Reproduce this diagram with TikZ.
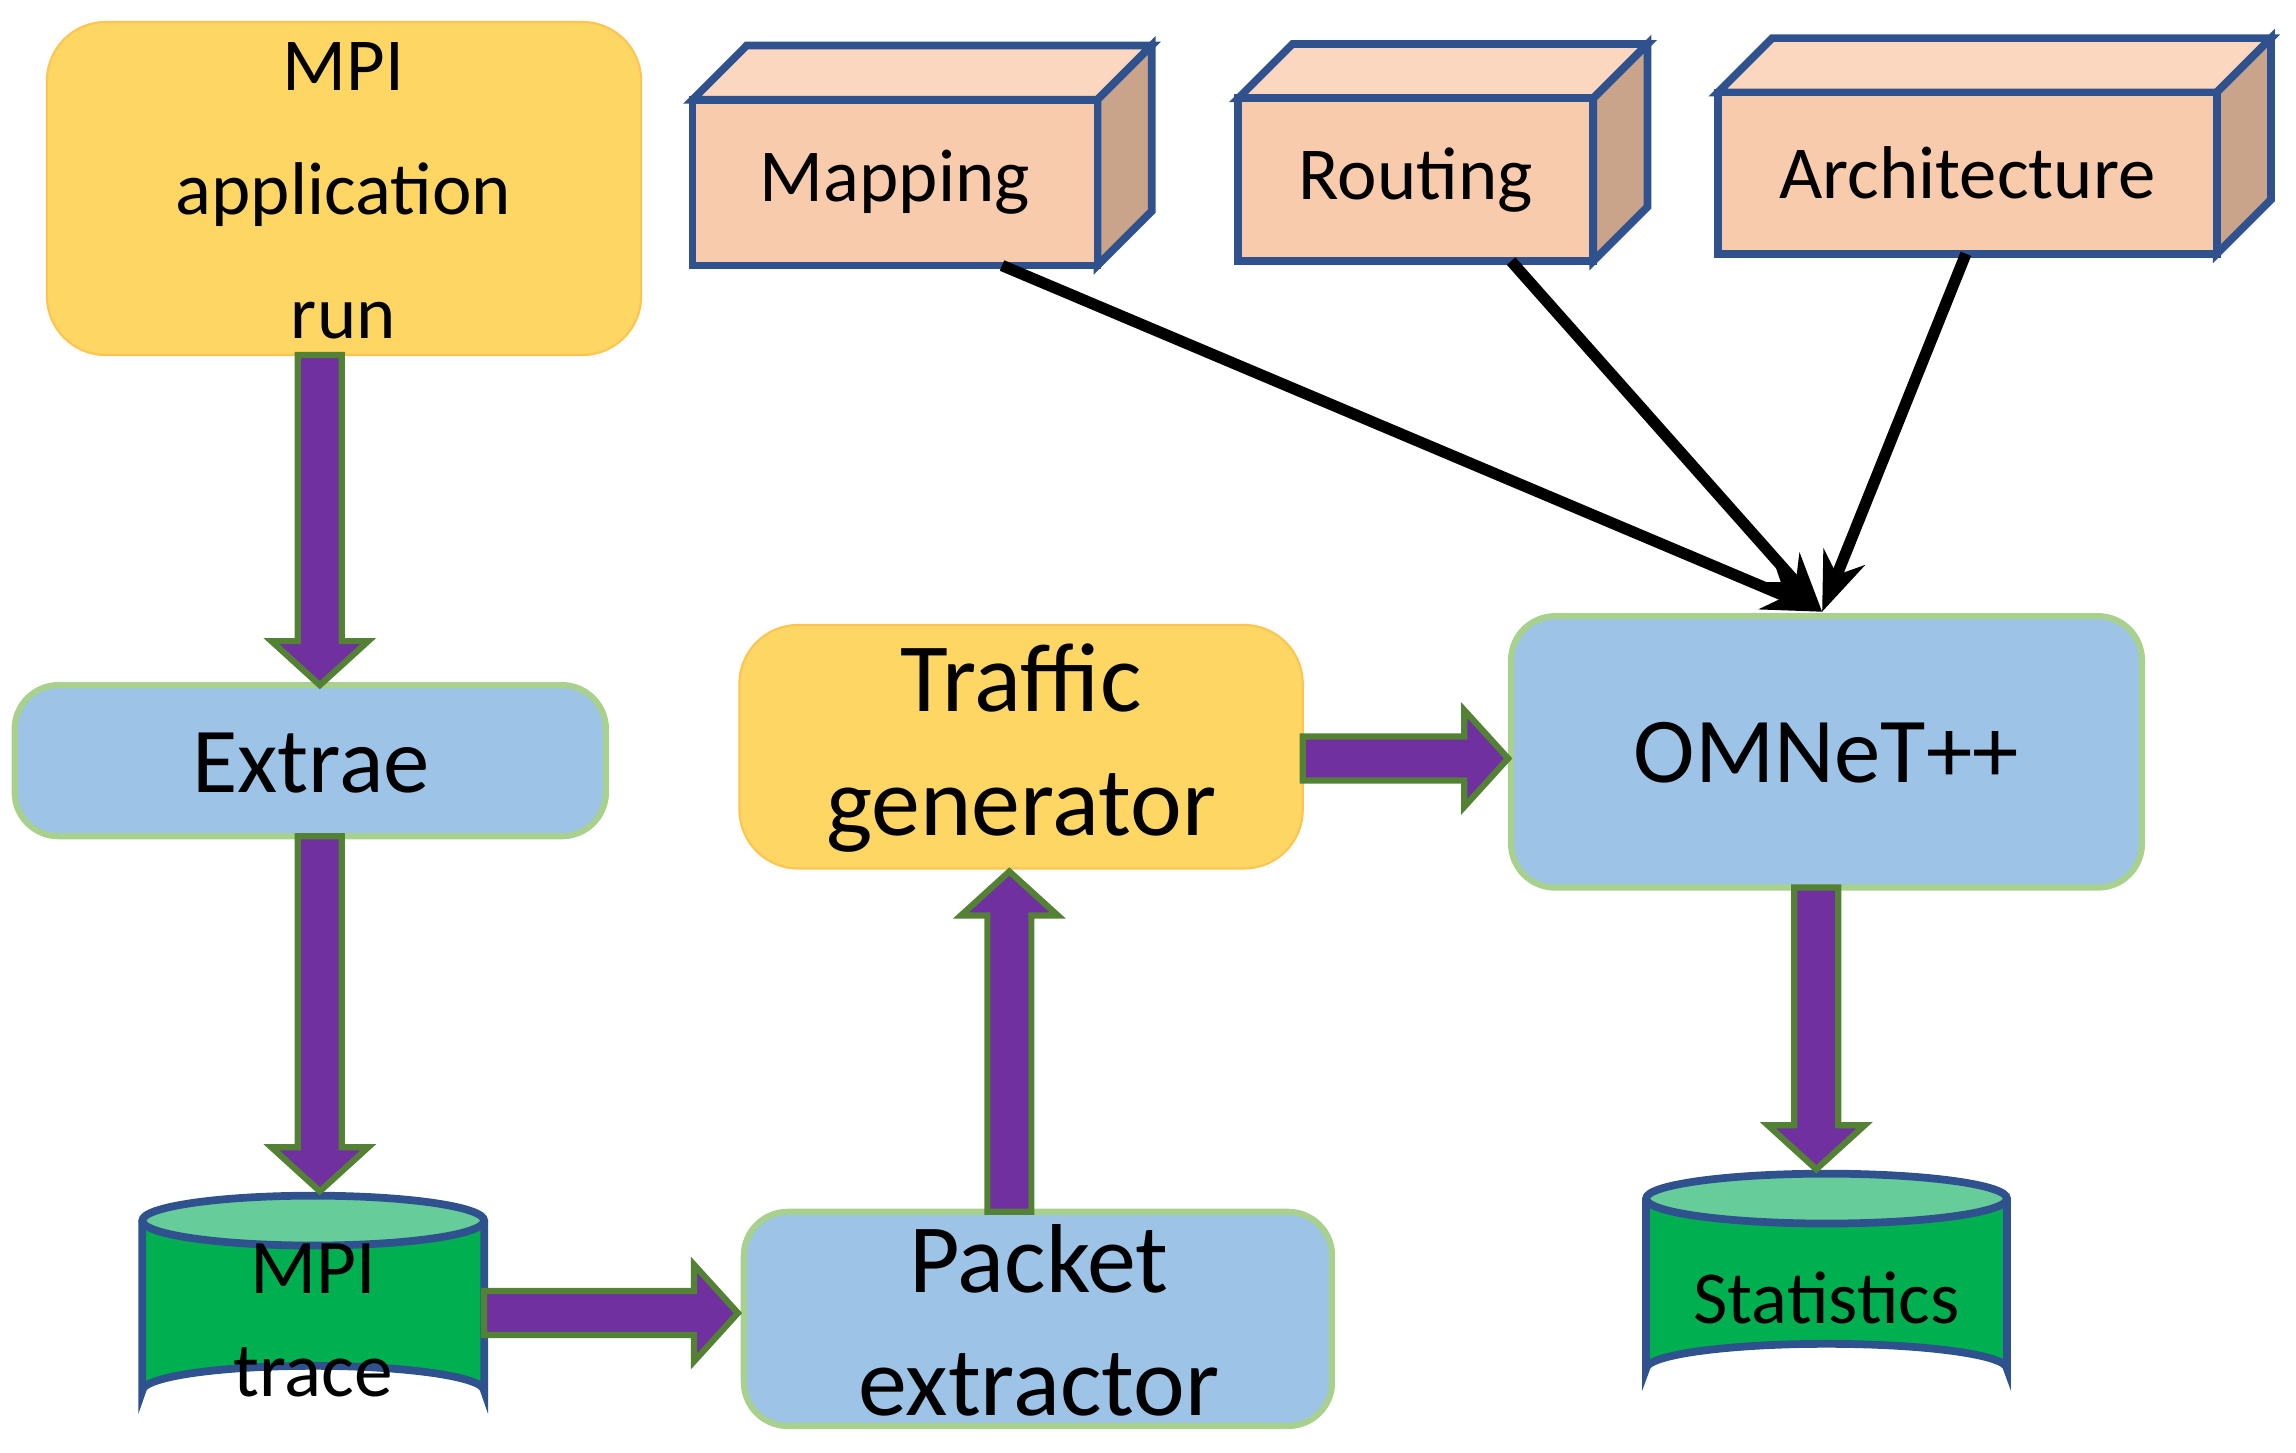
\documentclass[tikz,border=0pt]{standalone}
\usepackage{fontspec}
\setmainfont{Carlito}
\usetikzlibrary{calc}
\definecolor{ylw}{HTML}{FDD663}
\definecolor{blu}{HTML}{9DC3E6}
\definecolor{grnb}{HTML}{A9D18E}
\definecolor{grn}{HTML}{00B050}
\definecolor{grnt}{HTML}{66CC99}
\definecolor{edge}{HTML}{2F528F}
\definecolor{pur}{HTML}{7030A0}
\definecolor{purb}{HTML}{548235}
\definecolor{bfront}{HTML}{F8CBAD}
\definecolor{btop}{HTML}{FAD7BE}
\definecolor{bside}{HTML}{C9A38A}
\tikzset{
 x=0.1mm,y=-0.1mm,
 ybox/.style={fill=ylw,rounded corners=4mm,draw=ylw!80!orange},
 bbox/.style={fill=blu,rounded corners=3mm,draw=grnb,line width=1.2pt},
 fatstyle/.style={fill=pur,draw=purb,line width=1.2pt},
 pics/fat/.style={code={\draw[fatstyle] (0,-15)--(#1-30,-15)--(#1-30,-33)--(#1,0)--(#1-30,33)--(#1-30,15)--(0,15)--cycle;}},
 thin/.style={draw=black,line width=2.2pt,-{Stealth[length=4mm]}},
 lbl/.style={align=center,inner sep=0},
}
\usetikzlibrary{arrows.meta}
\newcommand\cyl[5]{% x1 y1 x2 y2 name
 \fill[grn] (#1,#2+17) -- (#1,#4-17) arc[start angle=180,end angle=360,x radius={(#3-#1)/2},y radius=17] -- (#3,#2+17) -- cycle;
 \draw[edge,line width=1.5pt] (#1,#2+17) -- (#1,#4-17) arc[start angle=180,end angle=360,x radius={(#3-#1)/2},y radius=17] -- (#3,#2+17);
 \draw[edge,line width=1.5pt,fill=grnt] ({(#1+#3)/2},#2+17) ellipse[x radius={(#3-#1)/2},y radius=17];
 \coordinate (#5) at ({(#1+#3)/2},{(#2+#4)/2+10});}
\newcommand\boxthree[5]{% x1 y1 x2 y2 name
 \draw[edge,line width=1.5pt,fill=btop] (#1,#2)--(#1+37,#2-37)--(#3+37,#2-37)--(#3,#2)--cycle;
 \draw[edge,line width=1.5pt,fill=bside] (#3,#2)--(#3+37,#2-37)--(#3+37,#4-37)--(#3,#4)--cycle;
 \draw[edge,line width=1.5pt,fill=bfront] (#1,#2) rectangle (#3,#4);
 \coordinate (#5) at ({(#1+#3)/2},{(#2+#4)/2});}
\begin{document}
\begin{tikzpicture}
\useasboundingbox (0,0) rectangle (1565,990);
% boxes
\draw[ybox] (32,15) rectangle (437,242);
\node[lbl,font=\fontsize{14.5}{24}\selectfont] (app) at (234,130) {MPI\\application\\run};
\draw[bbox] (10,467) rectangle (413,570);
\node[lbl,font=\fontsize{18}{20}\selectfont] (ext) at (212,520) {Extrae};
\draw[ybox] (504,426) rectangle (888,592);
\node[lbl,font=\fontsize{19}{24}\selectfont] (tg) at (696,510) {Traffic\\generator};
\draw[bbox] (1030,420) rectangle (1460,605);
\node[lbl,font=\fontsize{18}{20}\selectfont] (om) at (1245,513) {OMNeT++};
\draw[bbox] (507,826) rectangle (908,972);
\node[lbl,font=\fontsize{19}{24}\selectfont] (pe) at (708,900) {Packet\\extractor};
\cyl{97}{815}{330}{965}{tr}
\node[lbl,font=\fontsize{15}{20}\selectfont] at (tr) {MPI\\trace};
\cyl{1122}{800}{1368}{950}{st}
\node[lbl,font=\fontsize{14.5}{18}\selectfont] at (st) {Statistics};
\boxthree{472}{68}{748}{181}{mp}
\node[lbl,font=\fontsize{14.5}{18}\selectfont] at (mp) {Mapping};
\boxthree{844}{67}{1086}{178}{rt}
\node[lbl,font=\fontsize{14.5}{18}\selectfont] at (rt) {Routing};
\boxthree{1171}{63}{1511}{173}{ar}
\node[lbl,font=\fontsize{14.5}{18}\selectfont] at (ar) {Architecture};
% thin arrows
\coordinate (mpb) at (683,181);
\coordinate (rtb) at (1030,178);
\coordinate (arb) at (1340,173);
\coordinate (omt) at (1242,417);
\draw[thin] (mpb) -- (omt);
\draw[thin] (rtb) -- (omt);
\draw[thin] (arb) -- (omt);
% fat arrows
\pic[rotate=-90] at (218,242) {fat=225};
\pic[rotate=-90] at (218,570) {fat=242};
\pic at (330,895) {fat=173};
\pic[rotate=90] at (688,826) {fat=232};
\pic at (888,517) {fat=140};
\pic[rotate=-90] at (1238,605) {fat=192};
\end{tikzpicture}
\end{document}
